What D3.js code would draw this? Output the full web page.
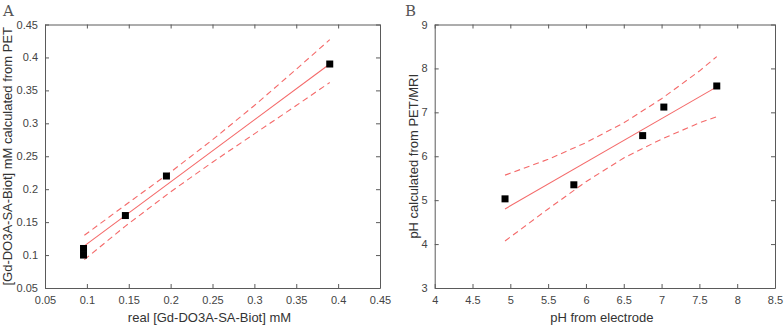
<!DOCTYPE html>
<html>
<head>
<meta charset="utf-8">
<script src="https://d3js.org/d3.v7.min.js"></script>
<style>
body { margin: 0; background: #fff; }
.ax path, .ax line { stroke: #5a5a5a; }
.ax text { fill: #444; font: 11px "Liberation Sans", Arial, sans-serif; }
.lab { fill: #333; font: 13px "Liberation Sans", Arial, sans-serif; }
.panel { fill: #555; font: 15px "DejaVu Serif", serif; }
</style>
</head>
<body>
<svg width="784" height="327"></svg>
<script>

// panel A data
var aTicks = [0.05, 0.1, 0.15, 0.2, 0.25, 0.3, 0.35, 0.4, 0.45];
var aRealX = [0.096, 0.096, 0.146, 0.195, 0.39];
var aPetY = [0.10, 0.11, 0.16, 0.22, 0.39];
var aFitX = [0.097, 0.39];
var aFitY = [0.114, 0.39];
var aBandX = [0.097, 0.146, 0.2, 0.25, 0.3, 0.35, 0.39];
var aUpper = [0.130, 0.176, 0.226, 0.275, 0.327, 0.382, 0.427];
var aLower = [0.093, 0.144, 0.196, 0.241, 0.284, 0.327, 0.362];

// panel B data
var bXTicks = [4, 4.5, 5, 5.5, 6, 6.5, 7, 7.5, 8, 8.5];
var bYTicks = [3, 4, 5, 6, 7, 8, 9];
var bElecX = [4.93, 5.84, 6.75, 7.03, 7.73];
var bMriY = [5.03, 5.35, 6.47, 7.12, 7.6];
var bFitX = [4.93, 7.73];
var bFitY = [4.80, 7.58];
var bBandX = [4.93, 5.5, 6.0, 6.5, 7.0, 7.5, 7.73];
var bUpper = [5.57, 5.93, 6.31, 6.76, 7.31, 7.94, 8.27];
var bLower = [4.07, 4.80, 5.42, 5.96, 6.39, 6.76, 6.90];

var svg = d3.select("svg");
var red = "#f46a6a";

function panel(o) {
  var x = d3.scaleLinear().domain(o.xd).range([o.left, o.right]);
  var y = d3.scaleLinear().domain(o.yd).range([o.bottom, o.top]);
  var g = svg.append("g");
  var fmt = function(d) { return String(+d.toFixed(2)); };

  g.append("g").attr("class", "ax")
    .attr("transform", "translate(0," + o.bottom + ")")
    .call(d3.axisBottom(x).tickValues(o.xt).tickFormat(fmt).tickSizeInner(-4).tickSizeOuter(0).tickPadding(8));
  g.append("g").attr("class", "ax")
    .attr("transform", "translate(0," + o.top + ")")
    .call(d3.axisTop(x).tickValues(o.xt).tickFormat("").tickSizeInner(-4).tickSizeOuter(0));
  g.append("g").attr("class", "ax")
    .attr("transform", "translate(" + o.left + ",0)")
    .call(d3.axisLeft(y).tickValues(o.yt).tickFormat(fmt).tickSizeInner(-4).tickSizeOuter(0).tickPadding(7));
  g.append("g").attr("class", "ax")
    .attr("transform", "translate(" + o.right + ",0)")
    .call(d3.axisRight(y).tickValues(o.yt).tickFormat("").tickSizeInner(-4).tickSizeOuter(0));

  var line = d3.line().x(function(d) { return x(d[0]); }).y(function(d) { return y(d[1]); });

  g.append("path").attr("d", line(d3.zip(o.bx, o.up)))
    .attr("fill", "none").attr("stroke", red).attr("stroke-width", 1.1).attr("stroke-dasharray", "6,4");
  g.append("path").attr("d", line(d3.zip(o.bx, o.lo)))
    .attr("fill", "none").attr("stroke", red).attr("stroke-width", 1.1).attr("stroke-dasharray", "6,4");
  g.append("path").attr("d", line(d3.zip(o.fx, o.fy)))
    .attr("fill", "none").attr("stroke", red).attr("stroke-width", 1.1);

  g.selectAll("rect.pt").data(d3.zip(o.px, o.py)).enter().append("rect")
    .attr("class", "pt")
    .attr("x", function(d) { return x(d[0]) - 3.5; })
    .attr("y", function(d) { return y(d[1]) - 3.5; })
    .attr("width", 7).attr("height", 7)
    .attr("fill", "#000");

  g.append("text").attr("class", "lab")
    .attr("x", (o.left + o.right) / 2 - 3).attr("y", 322)
    .attr("text-anchor", "middle").text(o.xl);
  g.append("text").attr("class", "lab")
    .attr("transform", "translate(" + o.ylx + "," + (o.top + o.bottom) / 2 + ") rotate(-90)")
    .attr("text-anchor", "middle").text(o.yl);
  g.append("text").attr("class", "panel")
    .attr("x", o.px0).attr("y", 16).text(o.name);
}

panel({
  name: "A", px0: 3,
  left: 45, right: 380, top: 24.5, bottom: 288,
  xd: [0.05, 0.45], yd: [0.05, 0.45], xt: aTicks, yt: aTicks,
  px: aRealX, py: aPetY, fx: aFitX, fy: aFitY, bx: aBandX, up: aUpper, lo: aLower,
  xl: "real [Gd-DO3A-SA-Biot] mM",
  yl: "[Gd-DO3A-SA-Biot] mM calculated from PET", ylx: 12
});

panel({
  name: "B", px0: 405,
  left: 434.7, right: 775, top: 24.5, bottom: 288,
  xd: [4, 8.5], yd: [3, 9], xt: bXTicks, yt: bYTicks,
  px: bElecX, py: bMriY, fx: bFitX, fy: bFitY, bx: bBandX, up: bUpper, lo: bLower,
  xl: "pH from electrode",
  yl: "pH calculated from PET/MRI", ylx: 418
});

</script>
</body>
</html>
